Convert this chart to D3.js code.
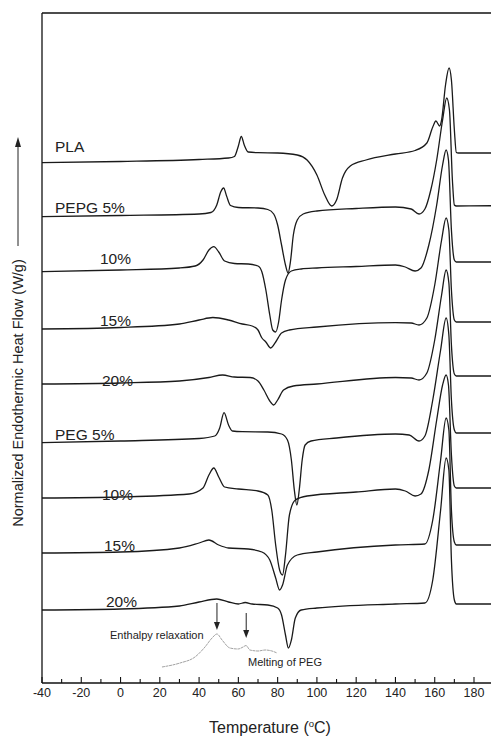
<!DOCTYPE html>
<html><head><meta charset="utf-8">
<script src="https://cdn.jsdelivr.net/npm/d3@7"></script>
<style>body{margin:0;background:#fff}svg{display:block;font-family:"Liberation Sans",Arial,Helvetica,sans-serif}</style>
</head><body><svg id="c" width="491" height="737"></svg>
<script>
// x tick labels
const xTicks = [-40,-20,0,20,40,60,80,100,120,140,160,180];
// curve names
const curveNames = ["PLA","PEPG 5%","10%","15%","20%","PEG 5%","10%","15%","20%"];
// [temperature °C, normalized heat flow (offset, arb. units)]
const pla = [[-40,52.03],[0,52.15],[40,52.35],[55,52.5],[58,52.65],[60,53.7],[61.5,54.65],[63,53.8],[65,53.1],[70,53.03],[80,53.0],[90,52.8],[95,52.3],[100,50.8],[104,48.8],[107.5,47.7],[110,48.3],[113,50.5],[117,51.7],[125,52.3],[140,52.9],[150,53.25],[156,54.0],[159,55.6],[160.6,56.2],[162.5,55.7],[163.5,56.3],[165.5,59.8],[167.3,61.5],[168.5,60.3],[170,55.3],[171,53.05],[172,53.0],[190,53.0]];
const pepg5 = [[-40,46.63],[0,46.75],[40,46.9],[46,47.05],[49,47.8],[51,49.1],[52.5,49.5],[54,48.7],[56,47.75],[60,47.55],[70,47.5],[75,47.35],[78,46.9],[80,45.8],[82,43.8],[84,41.8],[85.3,41.0],[86.5,42.1],[88,44.8],[90,46.3],[93,46.9],[100,47.2],[120,47.45],[140,47.6],[148,47.4],[152,46.9],[155,47.4],[158,49.3],[161,52.3],[164,56.3],[166.1,58.5],[167.5,57.3],[169,50.3],[170,47.8],[171,47.7],[190,47.73]];
const pepg10 = [[-40,41.13],[0,41.3],[30,41.5],[38,41.7],[42,42.3],[45,43.3],[47.5,43.63],[50,43.1],[53,42.2],[58,41.95],[65,41.9],[70,41.7],[72,41.1],[74,39.3],[76,36.8],[77.5,35.3],[79,35.1],[80.5,36.1],[82,38.3],[84,40.3],[87,41.2],[92,41.4],[100,41.5],[120,41.65],[140,41.8],[145,41.6],[150,41.2],[153,41.5],[157,43.8],[161,47.8],[164,51.8],[165.8,53.3],[167,52.3],[168.5,45.3],[170,42.3],[171,42.1],[190,42.1]];
const pepg15 = [[-40,35.4],[0,35.55],[30,35.9],[40,36.3],[47,36.55],[55,36.3],[62,35.9],[67,35.7],[70,35.3],[72,34.5],[74,34.1],[76.5,33.5],[79,34.1],[82,35.0],[86,35.3],[100,35.6],[140,36.03],[148,36.0],[152,35.8],[156,36.5],[160,39.8],[163.5,44.3],[165.8,46.5],[167.2,45.3],[168.5,39.3],[170,36.3],[171,36.1],[190,36.1]];
const pepg20 = [[-40,29.9],[0,30.0],[30,30.2],[45,30.55],[52,30.8],[58,30.6],[66,30.55],[70,30.2],[73,29.3],[76,28.2],[78,27.8],[80,28.3],[83,29.3],[88,29.7],[100,29.9],[140,30.55],[148,30.5],[152,30.3],[156,31.0],[160,34.3],[163.5,38.8],[165.8,41.3],[167.2,40.0],[168.5,33.8],[170,30.9],[171,30.7],[190,30.7]];
const peg5 = [[-40,24.03],[0,24.2],[40,24.45],[48,24.7],[50.5,25.5],[52.7,27.03],[55,25.8],[57,25.2],[62,25.13],[75,25.1],[82,24.9],[85,24.3],[87,22.3],[88.5,19.3],[89.8,17.8],[91,19.3],[92.5,22.3],[94,23.8],[97,24.2],[110,24.5],[140,24.9],[147,24.8],[152,24.2],[155,24.7],[159,28.3],[163,33.3],[165.8,36.5],[167.2,34.8],[168.5,28.3],[170,25.3],[171,25.0],[190,25.0]];
const peg10 = [[-40,18.5],[0,18.6],[35,18.9],[42,19.5],[45,20.8],[47.5,21.5],[50,20.6],[53,19.6],[60,19.4],[70,19.2],[75,18.8],[77,17.3],[79,13.8],[81,11.3],[82.5,10.8],[84,12.8],[86,16.8],[89,18.3],[95,18.7],[120,19.1],[140,19.4],[145,19.2],[150,18.7],[153,18.9],[157,21.3],[161,26.3],[164,29.8],[165.8,30.8],[167,29.8],[168.5,22.8],[170,19.7],[171,19.5],[190,19.5]];
const peg15 = [[-40,13.0],[0,13.1],[30,13.5],[40,14.0],[45,14.3],[50,13.8],[55,13.5],[65,13.4],[72,13.1],[76,12.3],[79,10.5],[81,9.3],[82.5,9.8],[85,11.8],[90,12.8],[100,13.1],[140,13.8],[155,13.9],[159,16.3],[163,22.3],[165.8,26.5],[167.2,25.3],[168.5,17.3],[170,14.1],[171,13.8],[190,13.8]];
const peg20 = [[-40,7.3],[0,7.4],[30,7.7],[40,8.1],[49,8.4],[55,8.1],[60,7.9],[63.5,8.05],[67,7.9],[75,7.8],[80,7.5],[82,6.8],[84,4.8],[85.5,3.5],[87,4.3],[89,6.5],[92,7.3],[100,7.5],[140,7.9],[155,8.0],[159,10.3],[163,17.3],[165.8,22.5],[167.2,21.3],[168.5,12.3],[170,8.3],[171,7.9],[190,7.9]];
// inset: PEG 20% enlarged (grey)
const inset = [[21.1,1.6],[30.3,2.0],[37.9,2.6],[43.0,3.6],[46.6,4.5],[49.1,4.9],[51.7,4.3],[55.7,3.5],[59.8,3.4],[62.4,3.6],[63.9,3.75],[65.9,3.3],[70.0,3.2],[73.6,3.3],[77.1,3.2],[79.7,3.0]];
// annotation arrows (temperature)
const arrowTemps = [49.1, 64.0];

const curves = [pla,pepg5,pepg10,pepg15,pepg20,peg5,peg10,peg15,peg20];

const svg = d3.select("#c");
const L = 42, T0 = 13, B = 683, R = 491;
const x = d3.scaleLinear().domain([-40,180]).range([42,474]);
const y = d3.scaleLinear().domain([0,67]).range([B, T0]);

svg.append("defs").append("clipPath").attr("id","pc")
  .append("rect").attr("x",L).attr("y",T0).attr("width",R-L).attr("height",B-T0);

const line = d3.line().x(d=>x(d[0])).y(d=>y(d[1])).curve(d3.curveMonotoneX);
const g = svg.append("g").attr("clip-path","url(#pc)");
curves.forEach(c=>{
  g.append("path").attr("d",line(c)).attr("fill","none").attr("stroke","#1a1a1a").attr("stroke-width",1.3);
});
g.append("path").attr("d",line(inset)).attr("fill","none").attr("stroke","#8a8a8a").attr("stroke-width",0.8).attr("stroke-dasharray","3,0.6");

// frame
svg.append("line").attr("x1",L).attr("x2",R).attr("y1",T0).attr("y2",T0).attr("stroke","#111").attr("stroke-width",1.3);
svg.append("line").attr("x1",L).attr("x2",L).attr("y1",T0).attr("y2",B).attr("stroke","#111").attr("stroke-width",1.3);

// x axis
const ax = svg.append("g").attr("transform",`translate(0,${B})`);
ax.append("line").attr("x1",L).attr("x2",R).attr("stroke","#111").attr("stroke-width",1.3);
const minor = d3.range(-40,191,10);
ax.selectAll(".mt").data(minor).join("line").attr("x1",d=>x(d)).attr("x2",d=>x(d))
  .attr("y1",0).attr("y2",d=>(d%20===0)?-6:-4).attr("stroke","#111").attr("stroke-width",1.1);
ax.selectAll(".tl").data(xTicks).join("text").attr("x",d=>x(d)).attr("y",14)
  .attr("text-anchor","middle").attr("font-size",12.5).attr("fill","#222").text(d=>d);

svg.append("text").attr("x",270).attr("y",733).attr("text-anchor","middle")
  .attr("font-size",16).attr("fill","#222")
  .html('Temperature (<tspan dy="-6" font-size="9.5">o</tspan><tspan dy="6">C)</tspan>');

// y label with arrow
svg.append("text").attr("transform","translate(23,393) rotate(-90)").attr("text-anchor","middle")
  .attr("font-size",14.5).attr("fill","#222").text("Normalized Endothermic Heat Flow (W/g)");
svg.append("line").attr("x1",18).attr("x2",18).attr("y1",246).attr("y2",144).attr("stroke","#222").attr("stroke-width",1);
svg.append("path").attr("d","M18,137 L15,147 L21,147 Z").attr("fill","#222");

// curve labels
const labelPos = [[55,152],[55,213],[100,264],[100,326],[102,386],[55,440],[102,500],[104,551],[106,607]];
curveNames.forEach((n,i)=>{
  svg.append("text").attr("x",labelPos[i][0]).attr("y",labelPos[i][1]).attr("font-size",15.5).attr("fill","#222").text(n);
});

// annotations
const arrowTop = [8.0, 7.0], arrowBot = [5.3, 4.5];
arrowTemps.forEach((t,i)=>{
  svg.append("line").attr("x1",x(t)).attr("x2",x(t)).attr("y1",y(arrowTop[i])).attr("y2",y(arrowBot[i])-6).attr("stroke","#222").attr("stroke-width",1);
  svg.append("path").attr("d",`M${x(t)},${y(arrowBot[i])} L${x(t)-3},${y(arrowBot[i])-8} L${x(t)+3},${y(arrowBot[i])-8} Z`).attr("fill","#222");
});
svg.append("text").attr("x",110).attr("y",639).attr("font-size",11).attr("fill","#222").text("Enthalpy relaxation");
svg.append("text").attr("x",248).attr("y",666).attr("font-size",11).attr("fill","#222").text("Melting of PEG");
</script></body></html>
